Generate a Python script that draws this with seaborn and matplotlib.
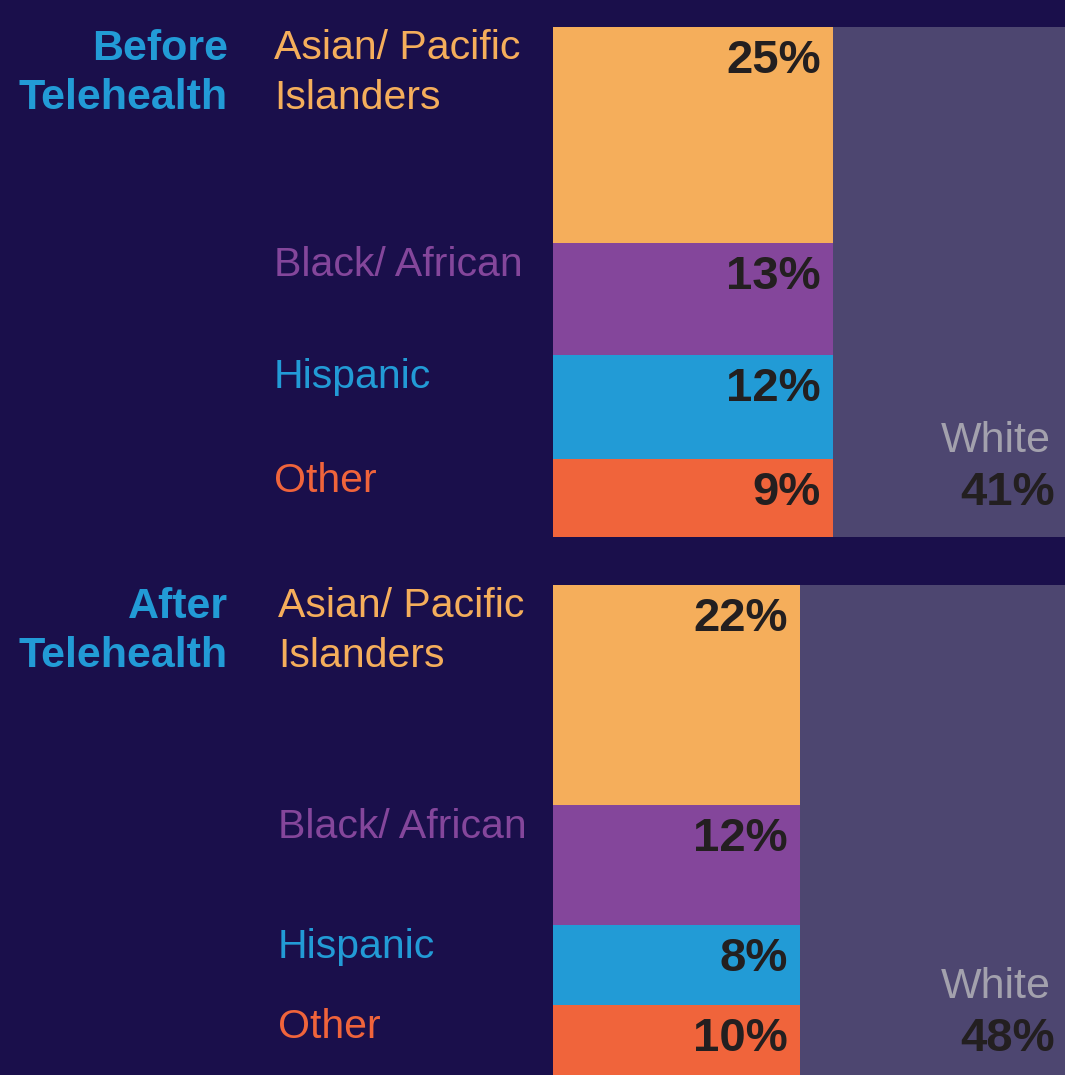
"""
Patient mix before / after telehealth — mosaic-style stacked columns.
"""
import matplotlib
matplotlib.use("Agg")

import numpy as np
import pandas as pd
import matplotlib.pyplot as plt
import matplotlib.transforms as mtransforms
import seaborn as sns

# ── Data ──────────────────────────────────────────────────────────────────────
periods = ["Before\nTelehealth", "After\nTelehealth"]
groups = ["Asian/ Pacific\nIslanders", "Black/ African", "Hispanic", "Other"]
before_pct = [25, 13, 12, 9]
after_pct = [22, 12, 8, 10]
white_pct = [41, 48]

# ── Style ─────────────────────────────────────────────────────────────────────
BG = "#1a0f4b"
WHITE_COL = "#4d4670"
GROUP_COLORS = ["#f5ae5b", "#84469b", "#229bd6", "#f0643b"]
TITLE_COLOR = "#229bd6"
PCT_COLOR = "#231f20"
WHITE_TXT = "#a3a1ad"

sns.set_theme(style="white")
plt.rcParams["font.family"] = ["Liberation Sans", "DejaVu Sans"]

W, H = 1065, 1075
fig = plt.figure(figsize=(W / 100, H / 100), dpi=100, facecolor=BG)

# panel boxes in pixels: (left, top, right, bottom)
boxes = [(553, 27, 1065, 537), (553, 585, 1065, 1105)]
label_x = [274, 278]
XMAX = 108  # column scale: ~4.74 px per percent point

df = pd.DataFrame({
    "period": np.repeat(periods, len(groups)),
    "group": groups * len(periods),
    "pct": before_pct + after_pct,
})


def label_kw(text):
    # multi-line labels hang from the top, single lines sit on a baseline
    if "\n" in text:
        return dict(va="top", dy=-2)
    return dict(va="baseline", dy=-33)


for i, period in enumerate(periods):
    l, t, r, b = boxes[i]
    ax = fig.add_axes([l / W, 1 - b / H, (r - l) / W, (b - t) / H])
    ax.set_facecolor(BG)
    sub = df[df["period"] == period]
    vals = sub["pct"].to_numpy()
    total = vals.sum()
    tops = np.concatenate([[0], np.cumsum(vals)[:-1]])

    ax.set_xlim(0, XMAX)
    ax.set_ylim(total, 0)
    ax.set_axis_off()

    # stacked non-white column
    for g, v, y0, c in zip(sub["group"], vals, tops, GROUP_COLORS):
        ax.bar(0, v, width=total, bottom=y0, align="edge", color=c,
               linewidth=0)
    # white column fills the rest of the panel
    ax.bar(total, total, width=XMAX - total, bottom=0, align="edge",
           color=WHITE_COL, linewidth=0)

    lab_tr = mtransforms.blended_transform_factory(fig.transFigure, ax.transData)
    for g, v, y0, c in zip(sub["group"], vals, tops, GROUP_COLORS):
        kw = label_kw(g)
        ax.text(label_x[i] / W, y0, g, transform=mtransforms.offset_copy(
                    lab_tr, fig=fig, y=kw["dy"], units="dots"),
                ha="left", va=kw["va"], fontsize=29.5, color=c,
                linespacing=1.4)
        ax.annotate(f"{v}%", xy=(total, y0), xytext=(-12, -46),
                    textcoords="offset pixels", ha="right", va="baseline",
                    fontsize=34, fontweight="bold", color=PCT_COLOR)

    # white share, aligned with the last row
    ax.annotate(f"{white_pct[i]}%", xy=(XMAX, tops[-1]), xytext=(-10, -46),
                textcoords="offset pixels", ha="right", va="baseline",
                fontsize=34, fontweight="bold", color=PCT_COLOR)
    ax.annotate("White", xy=(XMAX, tops[-1]), xytext=(-14, 7),
                textcoords="offset pixels", ha="right", va="baseline",
                fontsize=31, color=WHITE_TXT)

    # period title on the far left
    ax.text(228 / W, 0, period, transform=mtransforms.offset_copy(
                lab_tr, fig=fig, y=-2, units="dots"),
            ha="right", va="top", fontsize=31, fontweight="bold",
            color=TITLE_COLOR, linespacing=1.3, multialignment="right")

fig.savefig("out.png", dpi=100, facecolor=BG)
